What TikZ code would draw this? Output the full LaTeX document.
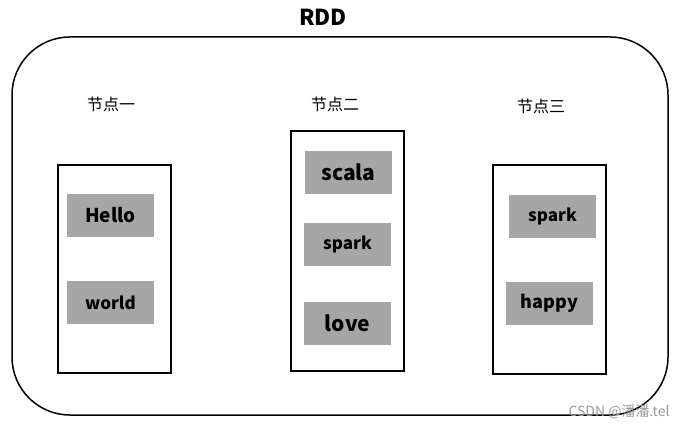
\documentclass[tikz,border=0pt]{standalone}
\usepackage{fontspec}
\setmainfont{Noto Sans CJK SC}
\usetikzlibrary{positioning}

\tikzstyle{rdd-block} = [draw, line width=1.5pt, rectangle, rounded corners=58pt, minimum width=656pt, minimum height=378pt]
\tikzstyle{node-block} = [draw, line width=1.5pt, rectangle, minimum width=113pt]
\tikzstyle{word-block} = [rectangle, fill=gray!70, text=black, minimum width=87pt, minimum height=43pt]
\tikzstyle{label} = [font=\fontsize{16}{18}\selectfont]

\begin{document}
\begin{tikzpicture}[x=1pt, y=-1pt]

	\useasboundingbox (0,0) rectangle (691,430);

	 \node [rdd-block] (RDD) at (340,226) {};
	 \node [font=\fontsize{22}{24}\selectfont\bfseries] (Title) at (323,17) {RDD};

	 \node [label] (L1) at (111,104) {节点一};
	 \node [label] (L2) at (335,104) {节点二};
	 \node [label] (L3) at (541,106) {节点三};

	 \node [node-block, minimum height=208pt] (N1) at (114.5,269) {};
	 \node [node-block, minimum height=240pt] (N2) at (347.5,251) {};
	 \node [node-block, minimum height=209pt] (N3) at (549.5,269.5) {};

	 \node [word-block, font=\fontsize{19}{21}\selectfont\bfseries] (Hello) at (110.5,215.5) {Hello};
	 \node [word-block, font=\fontsize{17}{19}\selectfont\bfseries] (world) at (110.5,302.5) {world};

	 \node [word-block, font=\fontsize{21}{23}\selectfont\bfseries] (scala) at (348.5,172.5) {scala};
	 \node [word-block, font=\fontsize{17}{19}\selectfont\bfseries] (sparkA) at (347.5,244.5) {spark};
	 \node [word-block, font=\fontsize{21}{23}\selectfont\bfseries] (love) at (347.5,323.5) {love};

	 \node [word-block, font=\fontsize{17}{19}\selectfont\bfseries] (sparkB) at (552.5,216.5) {spark};
	 \node [word-block, font=\fontsize{18}{20}\selectfont\bfseries] (happy) at (549.5,303.5) {happy};

	 \node [text=gray!80, font=\fontsize{14}{16}\selectfont] (mark) at (619,412) {CSDN @潘潘.tel};

\end{tikzpicture}
\end{document}
